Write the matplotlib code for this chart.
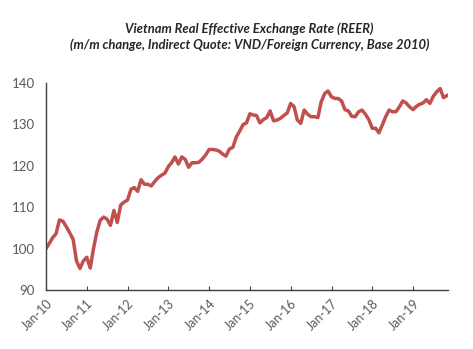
import numpy as np
import pandas as pd
import matplotlib
matplotlib.use("Agg")
import matplotlib.pyplot as plt
import matplotlib.dates as mdates

# monthly REER index, Jan 2010 - Nov 2019
reer = [
    100.0, 101.3, 102.6, 103.6, 106.9, 106.6, 105.3, 103.8, 102.2, 97.0, 95.2, 97.0,
    97.9, 95.3, 99.8, 104.0, 106.8, 107.6, 107.1, 105.6, 109.2, 106.3, 110.5, 111.2,
    111.7, 114.3, 114.7, 113.8, 116.6, 115.5, 115.5, 115.1, 116.2, 117.1, 117.7, 118.2,
    119.8, 120.8, 122.1, 120.4, 122.1, 121.5, 119.6, 120.7, 120.7, 120.8, 121.6, 122.6,
    123.9, 123.9, 123.8, 123.5, 122.8, 122.3, 124.0, 124.4, 126.9, 128.3, 129.9, 130.3,
    132.5, 132.2, 132.1, 130.3, 131.1, 131.6, 133.2, 130.8, 131.0, 131.4, 132.1, 132.7,
    135.0, 134.2, 131.0, 130.2, 133.4, 132.4, 131.8, 131.8, 131.6, 135.4, 137.4, 138.0,
    136.6, 136.2, 136.2, 135.6, 133.5, 133.2, 131.9, 131.8, 133.0, 133.4, 132.4, 131.1,
    129.0, 129.0, 127.9, 129.8, 131.8, 133.4, 133.0, 133.0, 134.2, 135.6, 135.1, 134.2,
    133.5, 134.3, 134.8, 135.1, 135.9, 135.0, 136.7, 137.8, 138.6, 136.4, 136.9,
]
dates = pd.date_range("2010-01-01", periods=len(reer), freq="MS")
yticks = [90, 100, 110, 120, 130, 140]

title = ("Vietnam Real Effective Exchange Rate (REER)\n"
         "(m/m change, Indirect Quote: VND/Foreign Currency, Base 2010)")

fig = plt.figure(figsize=(4.73, 3.49), dpi=100)
ax = fig.add_axes([0.0973, 0.169, 0.85, 0.594])

ax.plot(dates, reer, color="#C0504D", lw=2.5, solid_joinstyle="round")

ax.set_ylim(90, 140)
ax.set_yticks(yticks)
ax.set_xlim(dates[0], dates[-1] + pd.Timedelta(days=10))
ax.xaxis.set_major_locator(mdates.YearLocator(month=1, day=1))
ax.xaxis.set_major_formatter(mdates.DateFormatter("%b-%y"))

for s in ["top", "right"]:
    ax.spines[s].set_visible(False)
for s in ["left", "bottom"]:
    ax.spines[s].set_color("#404040")
    ax.spines[s].set_linewidth(1.0)

ax.tick_params(axis="y", length=0, pad=8, labelsize=9.5, labelcolor="#595959")
ax.tick_params(axis="x", direction="in", length=3, color="#404040",
               pad=5, labelsize=9, labelcolor="#595959")
for lab in ax.get_yticklabels() + ax.get_xticklabels():
    lab.set_family("Lato")
for lab in ax.get_xticklabels():
    lab.set_rotation(45)
    lab.set_ha("right")
    lab.set_rotation_mode("anchor")

fig.text(0.527, 0.895, title, ha="center", va="center", fontsize=9.4,
         style="italic", weight="bold", family="Lato", color="#262626",
         linespacing=1.3)

fig.savefig("out.png", dpi=100)
